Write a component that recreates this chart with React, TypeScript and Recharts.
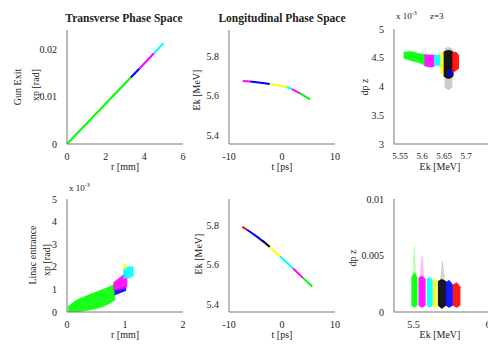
import React from "react";
import { ComposedChart, XAxis, YAxis, Line, Area } from "recharts";

const W = 488;
const H = 345;
const FONT = "'Liberation Serif', 'DejaVu Serif', serif";

const C = {
  g: "#00ff00",
  m: "#ff00ff",
  c: "#00ffff",
  y: "#ffff00",
  k: "#000000",
  b: "#0000ff",
  r: "#ff0000",
};

// ---------- Panel 1: Gun exit, transverse (r [mm], xp [rad]) ----------
const gunGreen = [{ x: 0, y: 0 }, { x: 3.3, y: 0.014 }];
const gunBlue = [{ x: 3.3, y: 0.014 }, { x: 3.75, y: 0.0159 }];
const gunMagenta = [{ x: 3.75, y: 0.0159 }, { x: 4.5, y: 0.0191 }];
const gunCyan = [{ x: 4.5, y: 0.0191 }, { x: 5.0, y: 0.0213 }];

// ---------- Panel 2: Gun exit, longitudinal (t [ps], Ek [MeV]) ----------
const lgMagenta = [{ x: -7.4, y: 5.676 }, { x: -6.0, y: 5.673 }];
const lgBlue = [{ x: -6.0, y: 5.673 }, { x: -4, y: 5.667 }, { x: -2.3, y: 5.66 }];
const lgYellow = [{ x: -2.3, y: 5.66 }, { x: 0, y: 5.65 }, { x: 0.9, y: 5.644 }];
const lgCyan = [{ x: 0.9, y: 5.644 }, { x: 1.9, y: 5.634 }];
const lgMagenta2 = [{ x: 1.9, y: 5.634 }, { x: 3.4, y: 5.613 }];
const lgGreen = [{ x: 3.4, y: 5.613 }, { x: 5.3, y: 5.582 }];

// ---------- Panel 3: Gun exit, Ek vs dp (x 1e-3) ----------
const eGreen = [
  { x: 5.558, v: [4.49, 4.6] },
  { x: 5.575, v: [4.45, 4.61] },
  { x: 5.59, v: [4.42, 4.58] },
  { x: 5.606, v: [4.37, 4.56] },
];
const eMagenta = [
  { x: 5.605, v: [4.36, 4.56] },
  { x: 5.616, v: [4.34, 4.55] },
  { x: 5.628, v: [4.35, 4.55] },
];
const eCyan = [
  { x: 5.627, v: [4.36, 4.55] },
  { x: 5.642, v: [4.37, 4.55] },
];
const eYellow = [
  { x: 5.642, v: [4.22, 4.6] },
  { x: 5.65, v: [4.22, 4.6] },
];
const eBlackTail = [
  { x: 5.651, v: [4.0, 4.65] },
  { x: 5.66, v: [3.95, 4.68] },
  { x: 5.669, v: [4.0, 4.65] },
];
const eBlack = [
  { x: 5.649, v: [4.18, 4.6] },
  { x: 5.66, v: [4.14, 4.63] },
  { x: 5.671, v: [4.18, 4.6] },
];
const eBlue = [
  { x: 5.658, v: [4.18, 4.3] },
  { x: 5.672, v: [4.2, 4.3] },
];
const eRed = [
  { x: 5.668, v: [4.25, 4.58] },
  { x: 5.676, v: [4.27, 4.6] },
  { x: 5.684, v: [4.32, 4.53] },
];

// ---------- Panel 4: Linac entrance, transverse (r [mm], xp x1e-3) ----------
const liGreen = [
  { x: 0.02, v: [0, 0.25] },
  { x: 0.15, v: [0.0, 0.5] },
  { x: 0.3, v: [0.05, 0.68] },
  { x: 0.5, v: [0.15, 0.88] },
  { x: 0.7, v: [0.33, 1.08] },
  { x: 0.83, v: [0.55, 1.25] },
];
const liBlue = [
  { x: 0.82, v: [0.75, 0.95] },
  { x: 0.92, v: [0.85, 1.05] },
  { x: 1.02, v: [0.95, 1.15] },
];
const liMagenta = [
  { x: 0.8, v: [0.95, 1.3] },
  { x: 0.9, v: [1.0, 1.5] },
  { x: 1.0, v: [1.05, 1.72] },
  { x: 1.04, v: [1.15, 1.8] },
];
const liCyan = [
  { x: 0.97, v: [1.5, 1.9] },
  { x: 1.06, v: [1.5, 2.0] },
  { x: 1.15, v: [1.6, 2.0] },
];
const liYellow = [
  { x: 0.96, v: [1.85, 2.1] },
  { x: 1.03, v: [1.95, 2.15] },
];

// ---------- Panel 5: Linac entrance, longitudinal (t [ps], Ek [MeV]) ----------
const ltRed = [{ x: -7.5, y: 5.795 }, { x: -6.6, y: 5.78 }];
const ltBlue = [{ x: -6.6, y: 5.78 }, { x: -5, y: 5.75 }, { x: -3.2, y: 5.713 }];
const ltBlack = [{ x: -3.6, y: 5.722 }, { x: -2.3, y: 5.692 }];
const ltYellow = [{ x: -2.3, y: 5.692 }, { x: -0.4, y: 5.645 }];
const ltCyan = [{ x: -0.4, y: 5.645 }, { x: 1, y: 5.61 }, { x: 2.1, y: 5.582 }];
const ltMagenta = [{ x: 2.1, y: 5.582 }, { x: 4.0, y: 5.533 }];
const ltGreen = [{ x: 4.0, y: 5.533 }, { x: 5.7, y: 5.49 }];

// ---------- Panel 6: Linac entrance, Ek vs dp ----------
const colGreen = [
  { x: 5.486, v: [0.0006, 0.003] },
  { x: 5.506, v: [0.0004, 0.0035] },
  { x: 5.527, v: [0.0006, 0.003] },
];
const colMagenta = [
  { x: 5.534, v: [0.0006, 0.003] },
  { x: 5.558, v: [0.0004, 0.0032] },
  { x: 5.582, v: [0.0006, 0.0029] },
];
const colCyan = [
  { x: 5.589, v: [0.0006, 0.0029] },
  { x: 5.61, v: [0.0004, 0.0031] },
  { x: 5.63, v: [0.0006, 0.0028] },
];
const colYellow = [
  { x: 5.632, v: [0.0005, 0.0028] },
  { x: 5.645, v: [0.0003, 0.003] },
  { x: 5.657, v: [0.0005, 0.0027] },
];
const colBlack = [
  { x: 5.664, v: [0.0006, 0.0027] },
  { x: 5.69, v: [0.0003, 0.0029] },
  { x: 5.72, v: [0.0006, 0.0027] },
];
const colBlue = [
  { x: 5.715, v: [0.0006, 0.0026] },
  { x: 5.74, v: [0.0004, 0.0028] },
  { x: 5.765, v: [0.0006, 0.0024] },
];
const colRed = [
  { x: 5.765, v: [0.0006, 0.0024] },
  { x: 5.79, v: [0.0004, 0.0026] },
  { x: 5.815, v: [0.0006, 0.0022] },
];
const tailGreen = [
  { x: 5.495, v: [0.003, 0.003] },
  { x: 5.506, v: [0.003, 0.0058] },
  { x: 5.517, v: [0.003, 0.003] },
];
const tailMagenta = [
  { x: 5.545, v: [0.003, 0.003] },
  { x: 5.558, v: [0.003, 0.005] },
  { x: 5.571, v: [0.003, 0.003] },
];
const tailBlack = [
  { x: 5.68, v: [0.0027, 0.0027] },
  { x: 5.695, v: [0.0027, 0.0045] },
  { x: 5.71, v: [0.0027, 0.0027] },
];

// ---------- axis ticks ----------
const rTicksTop = [0, 2, 4, 6];
const xpTicksTop = [0, 0.01, 0.02];
const tTicks = [-10, 0, 10];
const ekTicks = [5.4, 5.6, 5.8];
const ekTicks3 = [5.55, 5.6, 5.65, 5.7];
const dpTicks3 = [3, 3.5, 4, 4.5, 5];
const rTicksBot = [0, 1, 2];
const xpTicksBot = [0, 1, 2, 3, 4, 5];
const ekTicks6 = [5.5, 6];
const dpTicks6 = [0, 0.005, 0.01];

type Rect = { x0: number; y0: number; x1: number; y1: number };

const AX = "#777";

function makeXTick(fs: number) {
  return (p: any) => (
    <text
      x={p.x}
      y={p.y}
      dy="0.75em"
      textAnchor="middle"
      fill="#222"
      style={{ fontFamily: FONT, fontSize: fs }}
    >
      {String(p.payload.value)}
    </text>
  );
}

function YTick(p: any) {
  return (
    <text
      x={p.x}
      y={p.y}
      dy="0.35em"
      textAnchor="end"
      fill="#222"
      style={{ fontFamily: FONT, fontSize: 10 }}
    >
      {String(p.payload.value)}
    </text>
  );
}

function Panel(props: {
  r: Rect;
  xd: [number, number];
  xt: number[];
  yd: [number, number];
  yt: number[];
  yw?: number;
  xFs?: number;
  children: React.ReactNode;
}) {
  const { r, xd, xt, yd, yt, children } = props;
  const yw = props.yw ?? 40;
  const margin = { left: r.x0 - yw, top: r.y0, right: W - r.x1, bottom: H - r.y1 - 30 };
  return (
    <div style={{ position: "absolute", left: 0, top: 0 }}>
      <ComposedChart width={W} height={H} margin={margin}>
        <XAxis
          type="number"
          dataKey="x"
          domain={xd}
          ticks={xt}
          interval={0}
          allowDataOverflow
          height={30}
          tickLine={false}
          tickMargin={2}
          stroke={AX}
          tick={makeXTick(props.xFs ?? 10)}
        />
        <YAxis
          type="number"
          domain={yd}
          ticks={yt}
          interval={0}
          allowDataOverflow
          width={yw}
          tickLine={false}
          tickMargin={4}
          stroke={AX}
          tick={YTick}
        />
        {children}
      </ComposedChart>
    </div>
  );
}

function seg(data: any[], color: string, key: string, w = 2) {
  return (
    <Line
      key={key}
      data={data}
      dataKey="y"
      type="monotone"
      dot={false}
      stroke={color}
      strokeWidth={w}
      isAnimationActive={false}
    />
  );
}

function blob(data: any[], color: string, key: string, op = 0.9, type: any = "monotone") {
  return (
    <Area
      key={key}
      data={data}
      dataKey="v"
      type={type}
      stroke={color}
      strokeWidth={1}
      strokeOpacity={op * 0.6}
      fill={color}
      fillOpacity={op}
      dot={false}
      activeDot={false}
      isAnimationActive={false}
    />
  );
}

const P1: Rect = { x0: 67, y0: 30, x1: 183, y1: 144 };
const P2: Rect = { x0: 229, y0: 30, x1: 335, y1: 144 };
const P3: Rect = { x0: 394, y0: 29, x1: 488, y1: 144 };
const P4: Rect = { x0: 67, y0: 199, x1: 183, y1: 312 };
const P5: Rect = { x0: 229, y0: 199, x1: 335, y1: 312 };
const P6: Rect = { x0: 394, y0: 199, x1: 488, y1: 312 };

export default function App() {
  const lab = { fontFamily: FONT, fontSize: 10, fill: "#222" } as any;
  const ttl = { fontFamily: FONT, fontSize: 11.5, fontWeight: 700, fill: "#222" } as any;
  return (
    <div style={{ position: "absolute", left: 0, top: 0, width: W, height: H, background: "#fff" }}>
      <Panel r={P1} xd={[0, 6]} xt={rTicksTop} yd={[0, 0.024]} yt={xpTicksTop}>
        {seg(gunGreen, C.g, "g")}
        {seg(gunBlue, C.b, "b")}
        {seg(gunMagenta, C.m, "m")}
        {seg(gunCyan, C.c, "c")}
      </Panel>
      <Panel r={P2} xd={[-10, 10]} xt={tTicks} yd={[5.355, 5.935]} yt={ekTicks}>
        {seg(lgMagenta, C.m, "m")}
        {seg(lgBlue, C.b, "b")}
        {seg(lgYellow, C.y, "y")}
        {seg(lgCyan, C.c, "c")}
        {seg(lgMagenta2, C.m, "m2")}
        {seg(lgGreen, C.g, "g")}
      </Panel>
      <Panel r={P3} xd={[5.536, 5.75]} xt={ekTicks3} yd={[3, 5]} yt={dpTicks3} xFs={9}>
        {blob(eGreen, C.g, "g")}
        {blob(eMagenta, C.m, "m")}
        {blob(eCyan, C.c, "c")}
        {blob(eYellow, C.y, "y")}
        {blob(eBlackTail, C.k, "kt", 0.2)}
        {blob(eBlack, C.k, "k")}
        {blob(eBlue, C.b, "b", 0.7)}
        {blob(eRed, C.r, "r")}
      </Panel>
      <Panel r={P4} xd={[0, 2]} xt={rTicksBot} yd={[0, 5]} yt={xpTicksBot}>
        {blob(liGreen, C.g, "g")}
        {blob(liBlue, C.b, "b")}
        {blob(liMagenta, C.m, "m")}
        {blob(liCyan, C.c, "c")}
        {blob(liYellow, C.y, "y", 0.6)}
      </Panel>
      <Panel r={P5} xd={[-10, 10]} xt={tTicks} yd={[5.36, 5.937]} yt={ekTicks}>
        {seg(ltRed, C.r, "r")}
        {seg(ltBlue, C.b, "b")}
        {seg(ltBlack, C.k, "k")}
        {seg(ltYellow, C.y, "y")}
        {seg(ltCyan, C.c, "c")}
        {seg(ltMagenta, C.m, "m")}
        {seg(ltGreen, C.g, "g")}
      </Panel>
      <Panel r={P6} xd={[5.37, 6]} xt={ekTicks6} yd={[0, 0.01]} yt={dpTicks6}>
        {blob(tailGreen, C.g, "tg", 0.25, "linear")}
        {blob(tailMagenta, C.m, "tm", 0.25, "linear")}
        {blob(tailBlack, C.k, "tk", 0.15, "linear")}
        {blob(colGreen, C.g, "g", 0.9, "linear")}
        {blob(colMagenta, C.m, "m", 0.9, "linear")}
        {blob(colCyan, C.c, "c", 0.9, "linear")}
        {blob(colYellow, C.y, "y", 0.9, "linear")}
        {blob(colBlack, C.k, "k", 0.9, "linear")}
        {blob(colBlue, C.b, "b", 0.9, "linear")}
        {blob(colRed, C.r, "r", 0.9, "linear")}
      </Panel>
      <svg width={W} height={H} style={{ position: "absolute", left: 0, top: 0, pointerEvents: "none" }}>
        <text x={124} y={22} textAnchor="middle" style={ttl}>Transverse Phase Space</text>
        <text x={282} y={22} textAnchor="middle" style={ttl}>Longitudinal Phase Space</text>

        <text transform="translate(21,87) rotate(-90)" textAnchor="middle" style={lab}>Gun Exit</text>
        <text transform="translate(38.5,85) rotate(-90)" textAnchor="middle" style={lab}>xp [rad]</text>
        <text transform="translate(36,255) rotate(-90)" textAnchor="middle" style={lab}>Linac entrance</text>
        <text transform="translate(49.5,260) rotate(-90)" textAnchor="middle" style={lab}>xp [rad]</text>
        <text transform="translate(199.5,90) rotate(-90)" textAnchor="middle" style={lab}>Ek [MeV]</text>
        <text transform="translate(201.5,254) rotate(-90)" textAnchor="middle" style={lab}>Ek [MeV]</text>
        <text transform="translate(367.5,87) rotate(-90)" textAnchor="middle" style={lab}>dp z</text>
        <text transform="translate(355.5,258) rotate(-90)" textAnchor="middle" style={lab}>dp z</text>

        <text x={125} y={170} textAnchor="middle" style={lab}>r [mm]</text>
        <text x={282} y={170} textAnchor="middle" style={lab}>t [ps]</text>
        <text x={440} y={170} textAnchor="middle" style={lab}>Ek [MeV]</text>
        <text x={125} y={338} textAnchor="middle" style={lab}>r [mm]</text>
        <text x={282} y={338} textAnchor="middle" style={lab}>t [ps]</text>
        <text x={440} y={338} textAnchor="middle" style={lab}>Ek [MeV]</text>

        <text x={396} y={19} style={{ ...lab, fontSize: 9 }}>
          x 10<tspan dy={-4} fontSize={6}>-3</tspan>
        </text>
        <text x={430} y={19} style={{ ...lab, fontSize: 9 }}>z=3</text>
        <text x={69} y={191} style={{ ...lab, fontSize: 9 }}>
          x 10<tspan dy={-4} fontSize={6}>-3</tspan>
        </text>
      </svg>
    </div>
  );
}
